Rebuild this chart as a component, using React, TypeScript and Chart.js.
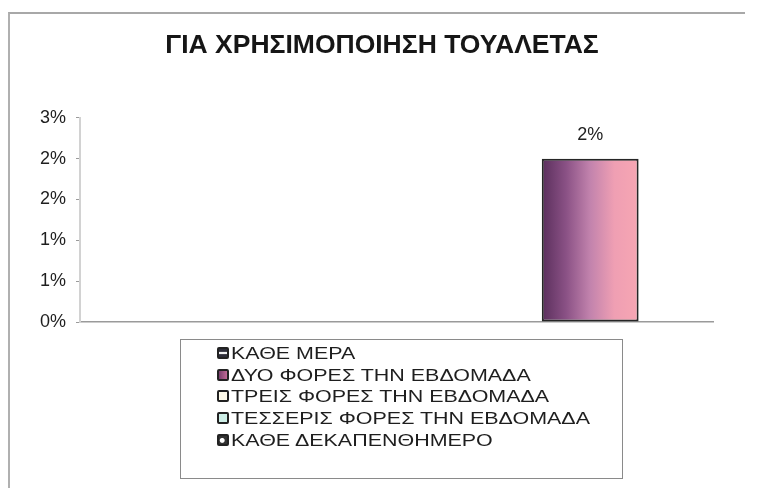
import React, { useEffect, useRef } from 'react';
import { Chart, registerables } from 'chart.js';

Chart.register(...registerables);

// ---- data ----
const chartTitle = 'ΓΙΑ ΧΡΗΣΙΜΟΠΟΙΗΣΗ ΤΟΥΑΛΕΤΑΣ';
const categories = [''];
const seriesNames = [
  'ΚΑΘΕ ΜΕΡΑ',
  'ΔΥΟ ΦΟΡΕΣ ΤΗΝ ΕΒΔΟΜΑΔΑ',
  'ΤΡΕΙΣ ΦΟΡΕΣ ΤΗΝ ΕΒΔΟΜΑΔΑ',
  'ΤΕΣΣΕΡΙΣ ΦΟΡΕΣ ΤΗΝ ΕΒΔΟΜΑΔΑ',
  'ΚΑΘΕ ΔΕΚΑΠΕΝΘΗΜΕΡΟ',
];
const katheMera = [0];
const dyoFores = [0.02];
const treisFores = [0];
const tesserisFores = [0];
const katheDekapenthimero = [0];
const seriesValues = [katheMera, dyoFores, treisFores, tesserisFores, katheDekapenthimero];
const yTickValues = [0, 0.005, 0.01, 0.015, 0.02, 0.025];
const yTickLabels = ['0%', '1%', '1%', '2%', '2%', '3%'];

// ---- styles ----
const seriesColors = ['#3a3a48', '#a8608e', '#fffbe8', '#cdeee6', '#3a3a3a'];
const markerBackgrounds = [
  'linear-gradient(to bottom, #2e2e3a 30%, #f2f2f2 42%, #f2f2f2 58%, #2e2e3a 70%)',
  'linear-gradient(to right, #7a3f6e, #c06a95)',
  '#fffbea',
  '#cdeee6',
  'radial-gradient(circle at 40% 55%, #ffffff 30%, #333333 45%)',
];
const FONT = '"Liberation Sans", Arial, sans-serif';

export default function App() {
  const canvasRef = useRef<HTMLCanvasElement | null>(null);

  useEffect(() => {
    const canvas = canvasRef.current;
    if (!canvas) return;

    const gradientPlugin = {
      id: 'barGradient',
      beforeDatasetsDraw(chart: any) {
        const ctx = chart.ctx;
        chart.data.datasets.forEach((_ds: any, di: number) => {
          const meta = chart.getDatasetMeta(di);
          meta.data.forEach((el: any) => {
            if (!el || !el.width) return;
            const x0 = el.x - el.width / 2;
            const x1 = el.x + el.width / 2;
            const g = ctx.createLinearGradient(x0, 0, x1, 0);
            if (di === 1) {
              g.addColorStop(0, '#5a2f5c');
              g.addColorStop(0.25, '#8a5185');
              g.addColorStop(0.5, '#c283ad');
              g.addColorStop(0.75, '#ef9fb3');
              g.addColorStop(1, '#f7a6b3');
              el.options = { ...el.options, backgroundColor: g };
            }
          });
        });
      },
    };

    const valueLabelPlugin = {
      id: 'valueLabels',
      afterDatasetsDraw(chart: any) {
        const ctx = chart.ctx;
        ctx.save();
        ctx.font = `18px ${FONT}`;
        ctx.fillStyle = '#222';
        ctx.textAlign = 'center';
        ctx.textBaseline = 'middle';
        chart.data.datasets.forEach((ds: any, di: number) => {
          const meta = chart.getDatasetMeta(di);
          meta.data.forEach((el: any, i: number) => {
            const v = ds.data[i];
            if (!v) return;
            ctx.fillText(`${Math.round(v * 100)}%`, el.x, el.y - 24);
          });
        });
        ctx.restore();
      },
    };

    const chart = new Chart(canvas, {
      type: 'bar',
      data: {
        labels: categories,
        datasets: seriesNames.map((name, i) => ({
          label: name,
          data: seriesValues[i],
          backgroundColor: seriesColors[i],
          borderColor: '#262626',
          borderWidth: (c: any) => (c.raw ? 2 : 0),
          borderSkipped: false,
          order: i === 1 ? 1 : 0,
          categoryPercentage: 0.765,
          barPercentage: 1,
        })),
      },
      options: {
        responsive: false,
        animation: false,
        devicePixelRatio: 1,
        layout: { padding: { left: 28, right: 25, top: 0, bottom: 158 } },
        plugins: {
          legend: { display: false },
          tooltip: { enabled: false },
          title: {
            display: true,
            text: chartTitle,
            color: '#161616',
            font: { family: FONT, size: 26.5, weight: 'bold', lineHeight: 1.2 },
            padding: { top: 30, bottom: 56 },
          },
        },
        scales: {
          x: {
            grid: { display: false },
            ticks: { display: false },
            border: { display: true, color: '#9a9a9a', width: 1.5 },
          },
          y: {
            min: 0,
            max: 0.025,
            afterFit: (s: any) => {
              s.width = 52;
            },
            afterBuildTicks: (s: any) => {
              s.ticks = yTickValues.map((v) => ({ value: v }));
            },
            ticks: {
              padding: 10,
              color: '#1e1e1e',
              font: { family: FONT, size: 18 },
              callback: (_v: any, idx: number) => yTickLabels[idx],
            },
            grid: {
              drawOnChartArea: false,
              drawTicks: true,
              tickLength: 4,
              color: '#9a9a9a',
            },
            border: { display: true, color: '#d2d2d2', width: 2 },
          },
          yRight: {
            type: 'linear',
            position: 'right',
            display: true,
            afterFit: (s: any) => {
              s.width = 23;
            },
            grid: { display: false },
            ticks: { display: false },
            border: { display: false },
          },
        },
      },
      plugins: [gradientPlugin, valueLabelPlugin],
    } as any);

    return () => chart.destroy();
  }, []);

  return (
    <div style={{ position: 'absolute', left: 0, top: 0, width: 761, height: 488, background: '#fff', overflow: 'hidden' }}>
      <div
        style={{
          position: 'absolute',
          left: 8,
          top: 12,
          width: 735,
          height: 480,
          borderTop: '2px solid #a8a8a8',
          borderLeft: '2px solid #b0b0b0',
        }}
      />
      <canvas ref={canvasRef} width={761} height={488} style={{ position: 'absolute', left: 0, top: 0, width: 761, height: 488 }} />
      <div
        style={{
          position: 'absolute',
          left: 180,
          top: 339,
          width: 443,
          height: 140,
          border: '1px solid #8a8a8a',
          boxSizing: 'border-box',
          fontFamily: FONT,
        }}
      >
        {seriesNames.map((name, i) => (
          <div
            key={name}
            style={{
              position: 'absolute',
              left: 36,
              top: 3 + i * 21.7,
              height: 20,
              display: 'flex',
              alignItems: 'center',
              whiteSpace: 'nowrap',
            }}
          >
            <span
              style={{
                display: 'inline-block',
                width: 8,
                height: 8,
                border: '2px solid #222',
                borderRadius: 2,
                background: markerBackgrounds[i],
                marginRight: 2,
              }}
            />
            <span
              style={{
                display: 'inline-block',
                fontSize: 16.5,
                color: '#1e1e1e',
                transform: 'scaleX(1.3)',
                transformOrigin: 'left center',
                lineHeight: '20px',
              }}
            >
              {name}
            </span>
          </div>
        ))}
      </div>
    </div>
  );
}
